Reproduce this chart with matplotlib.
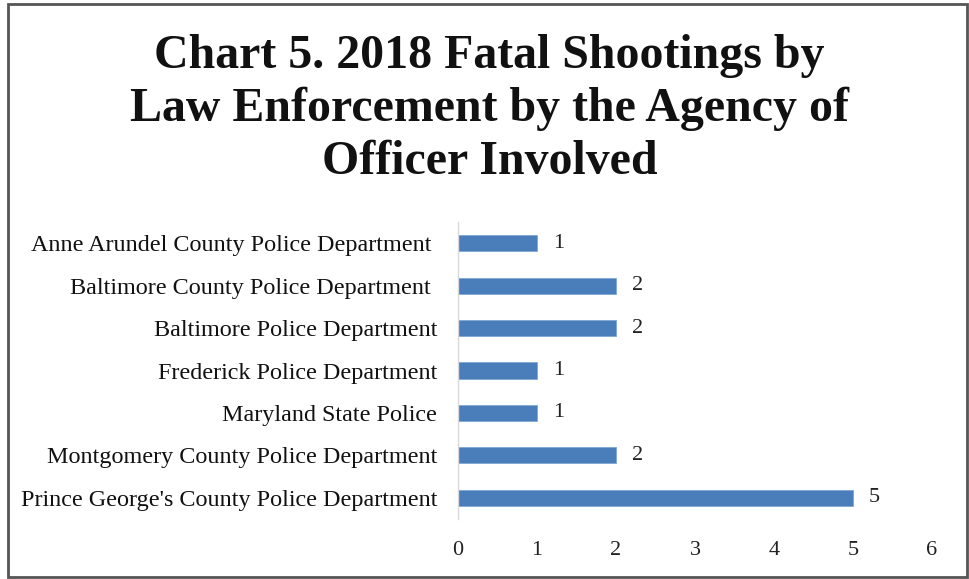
import matplotlib.pyplot as plt
from matplotlib.patches import Rectangle

# Data
agencies = [
    "Anne Arundel County Police Department ",
    "Baltimore County Police Department ",
    "Baltimore Police Department",
    "Frederick Police Department",
    "Maryland State Police",
    "Montgomery County Police Department",
    "Prince George's County Police Department",
]
shootings = [1, 2, 2, 1, 1, 2, 5]
x_ticks = [0, 1, 2, 3, 4, 5, 6]

plt.rcParams['font.family'] = ['Liberation Serif', 'DejaVu Serif']

fig = plt.figure(figsize=(9.69, 5.79), dpi=100)
ax = fig.add_axes([0.4727, 0.1036, 0.4891, 0.513])

y = list(range(len(agencies)))
ax.barh(y, shootings, height=0.38, color='#4A7EBB', edgecolor='#7FA7D6', linewidth=0.6)
for yi, v in zip(y, shootings):
    ax.text(v + 0.2, yi, str(v), va='center', ha='left', fontsize=16, color='#222222')

ax.set_ylim(len(agencies) - 0.5, -0.5)
ax.set_xlim(0, 6)
ax.set_xticks(x_ticks)
ax.set_xticklabels([str(t) for t in x_ticks], fontsize=16, color='#222222')
ax.set_yticks(y)
ax.set_yticklabels(agencies, fontsize=17.4, color='#111111')
ax.tick_params(axis='both', length=0)
ax.tick_params(axis='y', pad=15)
ax.tick_params(axis='x', pad=16)

for s in ['top', 'right', 'bottom']:
    ax.spines[s].set_visible(False)
ax.spines['left'].set_color('#D9D9D9')
ax.spines['left'].set_linewidth(1)

fig.text(0.505, 0.812,
         "Chart 5. 2018 Fatal Shootings by\nLaw Enforcement by the Agency of\nOfficer Involved",
         ha='center', va='center', fontsize=34.5, fontweight='bold',
         linespacing=1.25, color='#111111')

# outer chart frame
fig.patches.append(Rectangle((0.0085, 0.004), 0.989, 0.989, transform=fig.transFigure,
                             fill=False, edgecolor='#555555', linewidth=2))

fig.savefig("out.png", dpi=100)
